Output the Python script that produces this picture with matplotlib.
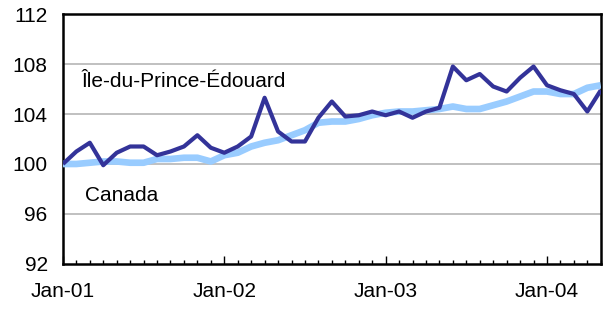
import matplotlib.pyplot as plt
import numpy as np

plt.rcParams['font.family'] = ['Liberation Sans', 'DejaVu Sans']

# monthly index, Jan-01 .. May-04
months = np.arange(41)
year_labels = ["Jan-01", "Jan-02", "Jan-03", "Jan-04"]

pei = [100.0, 101.0, 101.7, 99.9, 100.9, 101.4, 101.4, 100.7, 101.0, 101.4,
       102.3, 101.3, 100.9, 101.4, 102.2, 105.3, 102.6, 101.8, 101.8, 103.7,
       105.0, 103.8, 103.9, 104.2, 103.9, 104.2, 103.7, 104.2, 104.5, 107.8,
       106.7, 107.2, 106.2, 105.8, 106.9, 107.8, 106.3, 105.9, 105.6, 104.2,
       105.9]

canada = [100.0, 100.0, 100.1, 100.2, 100.2, 100.1, 100.1, 100.4, 100.4, 100.5,
          100.5, 100.2, 100.7, 100.9, 101.4, 101.7, 101.9, 102.3, 102.7, 103.3,
          103.4, 103.4, 103.6, 103.9, 104.1, 104.2, 104.2, 104.3, 104.4, 104.6,
          104.4, 104.4, 104.7, 105.0, 105.4, 105.8, 105.8, 105.6, 105.6, 106.1,
          106.3]

fig = plt.figure(figsize=(6.05, 3.12), dpi=100)
ax = fig.add_axes([0.104, 0.154, 0.889, 0.801])

ax.plot(months, canada, color='#99ccff', lw=4.8, solid_capstyle='butt',
        solid_joinstyle='round', zorder=3)
ax.plot(months, pei, color='#333399', lw=3.0, solid_capstyle='butt',
        solid_joinstyle='round', zorder=4)

ax.set_xlim(0, 40)
ax.set_ylim(92, 112)
ax.set_yticks(np.arange(92, 113, 4))
for v in [96, 100, 104, 108]:
    ax.axhline(v, color='#c0c0c0', lw=1.4, zorder=1)

ax.set_xticks(np.arange(0, 41, 12))
ax.set_xticklabels(year_labels)
ax.set_xticks(np.arange(0, 41, 1), minor=True)
ax.tick_params(axis='x', which='major', direction='in', length=6, width=1,
               pad=13, labelsize=15)
ax.tick_params(axis='x', which='minor', direction='in', length=3, width=1)
ax.tick_params(axis='y', length=0, pad=11, labelsize=15)

for s in ax.spines.values():
    s.set_linewidth(1.8)
    s.set_color('black')

ax.text(1.4, 106.6, "Île-du-Prince-Édouard", fontsize=15, va='center', ha='left')
ax.text(1.65, 97.5, "Canada", fontsize=15, va='center', ha='left')

fig.savefig("out.png", dpi=100)
